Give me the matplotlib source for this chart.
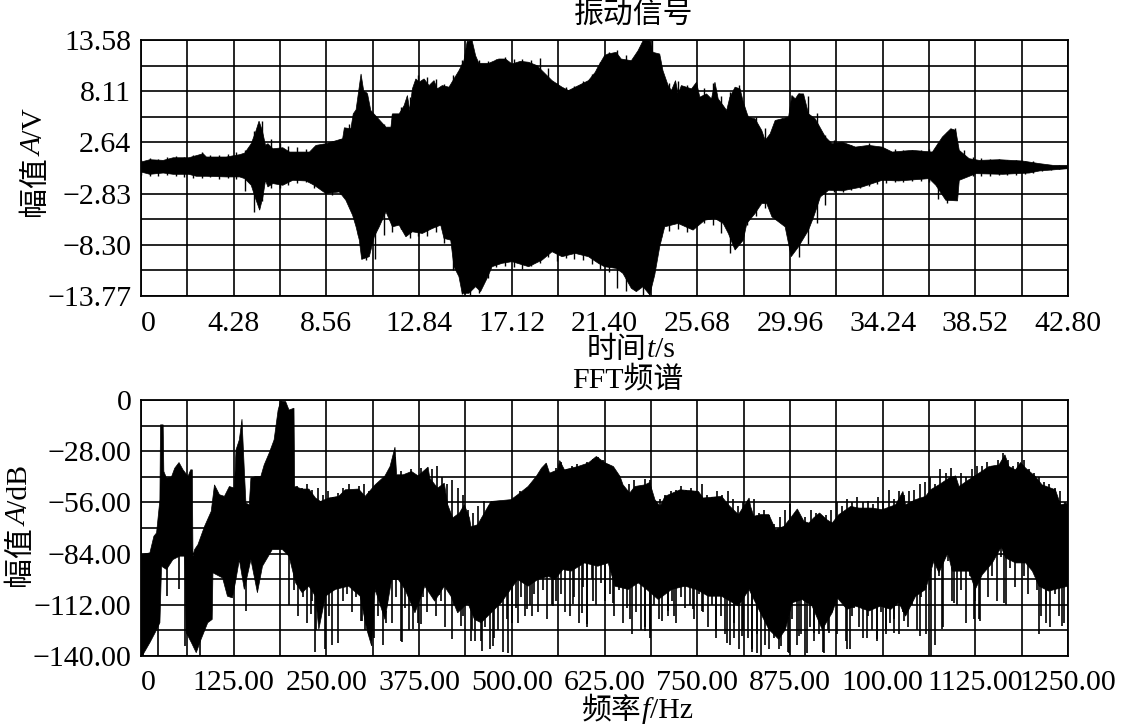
import numpy as np
import matplotlib
matplotlib.use('Agg')
import matplotlib.pyplot as plt

FONT = ['Liberation Serif', 'Noto Sans CJK SC']
plt.rcParams['font.family'] = FONT
plt.rcParams['font.size'] = 21.5

# -- vibration signal, envelope --
t_upper = [0, .41, 1.03, 1.49, 2.21, 2.87, 3.02, 3.94, 4.56, 4.79, 5.09, 5.29, 5.45, 5.6, 5.75, 5.86, 6.09, 6.55, 6.86,
           7.78, 8.08, 8.54, 9.31, 9.39, 9.69, 9.8, 9.93, 10.16, 10.28, 10.46, 10.61, 10.92, 11.31, 11.54, 11.61, 11.92,
           12.15, 12.3, 12.41, 12.53, 12.69, 12.84, 13.07, 13.3, 13.53, 13.68, 13.91, 14.22, 14.45, 14.68, 14.91, 15.06,
           15.29, 15.45, 15.6, 16.06, 16.52, 16.83, 17.13, 17.52, 17.9, 18.29, 18.52, 18.98, 19.44, 19.74, 20.2, 20.66,
           20.97, 21.09, 21.4, 21.55, 21.94, 22.17, 22.64, 22.95, 23.18, 23.49, 23.64, 23.95, 24.1, 24.34, 24.49, 24.68,
           24.8, 24.95, 25.42, 25.65, 25.8, 26.11, 26.34, 26.5, 26.65, 26.88, 27.04, 27.19, 27.43, 27.66, 27.81, 28.04,
           28.35, 28.66, 28.82, 29.05, 29.28, 29.9, 30.05, 30.21, 30.36, 30.59, 30.82, 31.13, 31.6, 31.91, 32.37, 32.99,
           33.6, 34.22, 34.69, 35.61, 36.54, 37.0, 37.39, 37.62, 37.78, 38.24, 38.7, 39.63, 40.71, 41.49, 42.1, 42.8]
v_upper = [.54, .79, .72, 1.0, 1.0, 1.43, 1.08, 1.08, 1.33, 1.5, 2.5, 3.74, 4.91, 3.92, 2.32, 2.5, 1.96, 2.07, 1.61,
           1.61, 2.32, 2.5, 3.03, 4.2, 4.1, 5.69, 6.12, 9.95, 8.18, 7.82, 6.05, 5.27, 4.27, 4.27, 5.69, 5.69,
           6.58, 7.65, 6.05, 8.36, 9.42, 9.07, 9.42, 8.71, 9.24, 8.36, 8.71, 8.54, 9.42, 10.3, 11.37, 13.43,
           13.5, 11.9, 11.09, 11.09, 11.55, 11.55, 11.02, 11.3, 11.2, 10.84, 10.3, 9.24, 8.54, 8.18, 8.71, 9.24,
           10.12, 10.66, 11.9, 12.08, 12.26, 11.55, 11.37, 12.44, 13.5, 13.5, 12.26, 12.08, 10.3, 8.71, 8.18, 9.24,
           7.82, 8.71, 8.36, 9.07, 7.47, 7.82, 7.29, 9.07, 7.29, 6.58, 6.05, 7.47, 8.54, 8.36, 6.94, 5.34,
           5.16, 3.92, 2.85, 3.56, 4.98, 5.34, 7.65, 7.29, 7.82, 7.82, 5.69, 5.16, 3.21, 2.5, 2.67, 2.14,
           2.32, 2.14, 1.61, 1.79, 1.61, 3.21, 4.1, 3.92, 1.79, .9, .72, .79, .65, .37, .19, .19]

t_lower = [0, .41, 1.03, 1.49, 2.21, 2.56, 3.02, 3.94, 4.56, 4.79, 5.09, 5.29, 5.48, 5.63, 5.75, 5.86, 6.09, 6.55, 7.01,
           7.62, 8.0, 8.54, 9.16, 9.46, 9.77, 9.93, 10.08, 10.19, 10.54, 10.77, 11.0, 11.31, 11.61, 11.92, 12.23, 12.53,
           12.99, 13.45, 13.84, 13.99, 14.3, 14.45, 14.68, 14.83, 15.14, 15.45, 15.68, 15.98, 16.21, 16.67, 17.13, 17.9,
           18.52, 18.98, 19.44, 20.05, 20.66, 21.12, 21.4, 21.94, 22.25, 22.64, 22.87, 23.18, 23.49, 23.72, 23.95, 24.18,
           24.8, 25.49, 26.03, 26.5, 26.88, 27.12, 27.43, 27.81, 27.97, 28.35, 28.66, 28.89, 29.13, 29.74, 30.02, 30.36,
           30.82, 31.06, 31.37, 31.75, 32.37, 33.3, 34.22, 34.99, 36.39, 36.7, 37.16, 37.7, 37.78, 38.55, 39.79, 41.02,
           41.49, 42.8]
v_lower = [-.52, -.77, -.63, -.77, -.77, -.98, -.98, -1.05, -1.05, -1.23, -1.94, -3.36, -4.6, -3.18, -1.41, -2.12, -1.76, -1.94, -1.41,
           -1.48, -1.94, -2.83, -2.65, -3.54, -5.14, -6.38, -7.8, -9.86, -9.57, -7.44, -6.38, -4.78, -6.38, -6.2, -7.44, -6.91,
           -7.09, -6.56, -6.2, -7.62, -7.8, -10.64, -11.7, -13.48, -13.48, -12.77, -13.3, -11.88, -10.64, -10.28, -10.1, -10.64,
           -9.93, -9.04, -9.57, -9.22, -9.57, -10.28, -10.64, -10.82, -11.35, -12.95, -13.3, -12.77, -13.65, -11.53, -8.51, -6.38,
           -6.02, -6.73, -5.67, -5.49, -6.02, -7.09, -8.86, -7.8, -6.02, -4.96, -3.89, -3.89, -5.31, -6.38, -9.57, -8.51,
           -6.73, -5.31, -3.18, -2.47, -2.54, -2.12, -1.41, -1.48, -1.23, -1.94, -3.54, -3.61, -1.41, -.7, -.77, -.63,
           -.41, -.17]

# one tip every 0.4 s, above and below the envelope
v_tips_up = [.8, 1.0, .9, 1.1, 1.2, 1.1, 1.3, 1.6, 1.3, 1.3,
             1.4, 1.6, 1.8, 3.9, 4.9, 3.0, 2.6, 2.3, 2.2, 1.9,
             2.2, 2.5, 2.6, 3.0, 4.6, 7.0, 8.0, 5.4, 4.6, 5.7,
             6.4, 7.5, 9.8, 9.6, 9.4, 8.9, 9.8, 11.4, 13.6, 11.4,
             11.3, 11.6, 11.8, 11.5, 11.6, 11.4, 11.7, 10.6, 9.0, 8.6,
             8.7, 9.2, 10.0, 11.2, 12.3, 12.5, 12.0, 11.7, 12.6, 13.6,
             10.5, 9.0, 9.2, 8.8, 8.6, 8.4, 9.0, 7.6, 8.0, 8.8,
             5.6, 5.4, 4.2, 3.2, 5.3, 5.6, 7.9, 7.6, 5.8, 3.4,
             2.9, 2.5, 2.4, 2.3, 2.6, 2.0, 1.9, 1.9, 1.8, 1.8,
             1.8, 1.9, 2.6, 3.8, 4.2, 1.8, 1.1, 1.0, .9, .9,
             .8, .8, .7, .6, .3, .25, .2]
v_tips_down = [-.8, -1.0, -.9, -.8, -1, -1.1, -1.2, -1.2, -1.1, -1.3,
               -1.2, -1.3, -2.5, -4.8, -3.6, -2.2, -2.2, -1.9, -1.7, -1.6,
               -2.2, -2.4, -3.0, -2.9, -3.9, -7.2, -9.9, -9.8, -7.2, -6.9,
               -6.6, -7.6, -7.4, -7.4, -6.9, -8.1, -11, -13.6, -13.7, -13.5,
               -11.8, -10.7, -10.6, -10.7, -10.9, -10.6, -10.2, -9.6, -10.0, -9.7,
               -9.8, -9.9, -10.4, -10.9, -11.2, -12.9, -13.2, -13.0, -13.7, -11,
               -7.5, -6.8, -6.6, -6.9, -6.2, -6, -6.2, -7.0, -9.2, -7.9,
               -6.2, -5.2, -4.4, -4, -5.4, -7, -9.6, -8.2, -6.0, -4,
               -2.7, -2.7, -2.4, -2.2, -2, -1.8, -1.7, -1.6, -1.6, -1.5,
               -1.5, -1.6, -3.4, -3.8, -1.2, -.9, -.9, -.9, -.9, -.8,
               -.8, -.8, -.7, -.6, -.4, -.3, -.2]

# -- FFT spectrum --
f_upper = [0, 12, 17.4, 21, 25.5, 26.3, 29.9, 30.8, 34.4, 41, 45.5, 51.3, 56.7, 63.4, 67, 69.2, 70.1, 72.3, 76.8, 85.7,
           94.7, 99.1, 105.8, 112.5, 119.2, 125.9, 128.1, 132.6, 136.2, 139.3, 141.5, 146, 148.2, 154.9, 161.6, 166.1,
           172.8, 179.5, 184.9, 188.4, 195.1, 199.6, 206.3, 207.2, 217.4, 226.4, 235.3, 242, 253.2, 266.6, 275.5, 293.4,
           302.3, 315.7, 329, 335.8, 342.5, 344.7, 353.6, 364.8, 373.7, 387.1, 389.4, 400, 409, 413.6, 420.4, 429.4, 436,
           442.9, 445, 454, 463, 472, 499, 508, 522, 533, 540, 546.5, 551, 562, 564.6, 571, 589, 603, 614, 625, 637, 646,
           650, 659, 666, 679.5, 686, 693, 700, 706.5, 727, 751.6, 758, 783, 792, 805.6, 820, 822, 826.4, 835.4, 846.7,
           855.7, 867, 876, 885, 894, 900.6, 907, 915, 925, 932, 941, 957, 968, 986, 999.5, 1017.5, 1027.4, 1031, 1044.5,
           1058, 1064.7, 1076, 1089.5, 1098.5, 1103, 1116.4, 1130, 1143.4, 1157, 1165, 1170.4, 1179.4, 1186, 1193, 1206,
           1215, 1233, 1240, 1250]
db_upper = [-84.5, -83.6, -74.5, -72.7, -54.5, -13.6, -13.6, -39.1, -42.7, -42.2, -37.3, -34.2, -38.2, -41.8, -38.2, -38.2,
            -85.4, -81.8, -79.1, -69.1, -60.9, -46.4, -51.8, -52.7, -47.3, -48.2, -27.3, -21.8, -10.5, -38.2, -56.4, -57.3,
            -42.7, -41.8, -41.8, -35.5, -29.1, -21.8, -5.5, -.5, -.9, -5.5, -4.5, -47.3, -48.7, -48.7, -53.6, -55.5, -53.6,
            -52.7, -49.1, -48.7, -52.7, -46.4, -41.5, -36.4, -25.8, -40.9, -40.9, -39.1, -41.5, -36.7, -42.7, -48.2, -45.5,
            -57.3, -64.5, -61.8, -57.3, -64.5, -69.4, -68.2, -61.8, -55.5, -54.5, -51.8, -47.3, -41.8, -37.3, -34.5, -40,
            -38.2, -33.1, -38.2, -36.4, -34.5, -30.9, -34.2, -36.4, -41.8, -46.4, -50.9, -47.3, -46.4, -45.1, -54.5, -58.2,
            -52.7, -49.1, -50, -53.6, -52.7, -57.3, -62.7, -53.6, -58.2, -63.6, -62.7, -62.7, -70.9, -69.1, -64.5, -59.6,
            -66.4, -67.3, -64.5, -61.8, -65.5, -67.3, -62.7, -58.2, -59.1, -59.1, -60, -57.3, -50, -57.3, -54.5, -52.7,
            -49.1, -46.4, -42.7, -41.5, -47.3, -43.6, -40, -36.4, -35.5, -30, -36.4, -38.2, -34.2, -37.3, -41.8, -46.4,
            -49.1, -57.3, -56.4]

f_lower = [0, 3, 12, 19, 25.5, 27.7, 34.4, 43, 52, 59, 61, 68, 74.5, 81, 90, 96, 97, 110, 116.6, 123.3, 128, 132.6, 139.3,
           148.2, 157, 163.8, 177, 190.7, 199.6, 208.5, 217.4, 226.4, 235.3, 239.8, 248.7, 262, 280, 295.6, 304.5, 311,
           315.7, 329, 338, 347, 356, 369.4, 382.7, 396, 409, 418, 427, 440.6, 449.7, 458.7, 472, 485.7, 501.5, 508, 522,
           535, 549, 558, 569, 580, 598, 616, 630, 639, 657, 670.5, 682, 697.5, 715.5, 733.5, 749, 765, 783, 805.6, 820,
           833, 846.7, 860, 869, 878, 891.6, 905, 918.6, 932, 939, 952, 963.6, 981.6, 997, 1011, 1022, 1031, 1044.5, 1058,
           1069, 1076, 1088, 1094, 1116.4, 1125, 1134.4, 1148, 1160, 1166, 1179.4, 1193, 1202, 1211, 1224, 1250]
db_lower = [-140, -139, -132.7, -127.3, -121.8, -90.9, -92.7, -87.3, -85.4, -85.4, -127.3, -132.7, -138.2, -130.9, -121.8, -120,
            -94.5, -97.3, -107.3, -108.2, -98.2, -87.3, -103.6, -87.3, -105.4, -90.9, -81.8, -81.8, -85.4, -100, -105.4, -101.8,
            -107.3, -125.5, -107.3, -103.6, -101.8, -107.3, -125.5, -134.5, -103.6, -120, -98.2, -98.2, -103.6, -116.4, -101.8,
            -110, -101.8, -107.3, -116.4, -110.9, -120, -121.8, -116.4, -110.9, -101.8, -98.2, -101.8, -98.2, -96.4, -98.2,
            -92.7, -93.6, -89.1, -90.9, -89.1, -101.8, -103.6, -100, -103.6, -109.1, -103.6, -101.8, -103.6, -107.3, -107.3,
            -112.7, -103.6, -114.5, -125.5, -130.9, -125.5, -110.9, -109.1, -112.7, -125.5, -116.4, -108.2, -114.5, -112.7,
            -115.4, -112.7, -114.5, -110.9, -118.2, -107.3, -103.6, -88.2, -94.5, -83.6, -93.6, -93.6, -103.6, -95.5, -89.1,
            -80.4, -86.4, -89.1, -89.1, -93.6, -101.8, -104.5, -101.8]

f_spikes = [3, 23, 34.4, 51.3, 59, 79, 141.5, 228.6, 235.3, 257.6, 297.8, 330, 351.4, 367, 378, 402, 420, 431.6, 445, 450.5,
            459.6, 474.4, 494.7, 508, 520.9, 527.6, 555.6, 582.6, 594.8, 602, 609.6, 636.7, 659, 679.5, 686.2, 702, 711,
            719, 744.8, 756, 776, 790, 799, 810, 824, 831, 846.7, 862.4, 873.7, 887, 898, 907, 921, 927.6, 952, 959, 979,
            993, 1004, 1015, 1029, 1051, 1064.7, 1080.5, 1096, 1123, 1132, 1163.6, 1211, 1220, 1242]
db_spikes = [-140, -140, -107.3, -103.6, -134.5, -140, -115.4, -116.8, -138, -133.8, -121, -121.8, -132.2, -125.5, -122.7,
             -106.4, -130.9, -123.6, -131.8, -131.8, -137.3, -134.5, -138.2, -121.8, -114.5, -118.2, -112.7, -111.8, -116.4,
             -122.7, -110, -110.9, -120, -126.4, -126.4, -120.9, -115.4, -118.2, -114.5, -115.4, -126.4, -132.7, -130, -129.1,
             -136.4, -138.2, -136.4, -134.5, -138.2, -129.1, -138.2, -127.3, -138.2, -127.3, -136.4, -118.2, -130, -130.9,
             -125.5, -127.3, -120.9, -129.1, -140, -125.5, -110.9, -120, -120.9, -110.9, -128.2, -121.8, -123.6]

# teeth of the lower edge, one every 6 Hz from 200 Hz
db_teeth = [-112, -104, -118, -108, -122, -110, -126, -114, -136, -118,
            -104, -133, -110, -106, -116, -108, -121, -126, -112, -130,
            -118, -134, -112, -122, -108, -132, -114, -126, -110, -122,
            -108, -116, -106, -118, -110, -124, -104, -112, -108, -118,
            -112, -126, -118, -132, -124, -136, -130, -126, -138, -120,
            -122, -114, -108, -118, -112, -106, -116, -104, -120, -112,
            -110, -106, -116, -118, -108, -122, -102, -124, -98, -112,
            -100, -110, -106, -118, -104, -122, -114, -128, -116, -126,
            -124, -130, -112, -120, -106, -118, -110, -122, -108, -114,
            -112, -120, -106, -116, -124, -112, -130, -118, -128, -134,
            -122, -136, -126, -130, -138, -128, -140, -134, -124, -130,
            -136, -126, -138, -120, -134, -128, -140, -124, -132, -128,
            -138, -126, -116, -128, -108, -132, -136, -114, -124, -130,
            -118, -126, -132, -116, -128, -122, -120, -128, -116, -124,
            -112, -126, -108, -128, -104, -134, -96, -124, -88, -110,
            -112, -104, -122, -96, -110, -120, -92, -108, -96, -110,
            -86, -112, -92, -102, -88, -96, -106, -90, -104, -118,
            -112, -124, -106, -118, -122]

# tips of the upper edge, one every 7 Hz from 210 Hz
db_tips = [-47, -48, -46, -49, -48, -52, -50, -53, -51, -48,
           -46, -49, -47, -46, -50, -47, -48, -53, -44, -40,
           -39, -41, -38, -42, -37, -40, -38, -36, -42, -46,
           -44, -48, -52, -60, -62, -58, -55, -58, -66, -68,
           -62, -58, -54, -50, -52, -49, -46, -40, -35, -40,
           -37, -34, -38, -36, -35, -37, -34, -32, -31, -33,
           -35, -38, -42, -48, -46, -44, -47, -43, -44, -56,
           -54, -52, -50, -49, -47, -49, -48, -50, -46, -52,
           -53, -50, -52, -50, -54, -58, -56, -60, -54, -62,
           -60, -63, -68, -64, -60, -57, -62, -66, -64, -60,
           -62, -65, -63, -60, -56, -58, -54, -56, -53, -56,
           -55, -57, -53, -55, -49, -54, -50, -52, -50, -49,
           -46, -45, -42, -46, -38, -40, -37, -44, -40, -42,
           -38, -36, -36, -34, -36, -33, -29, -33, -36, -34,
           -33, -38, -40, -42, -45, -46, -48, -50, -56, -54]

# -- ejes --
t_ticks = [0, 4.28, 8.56, 12.84, 17.12, 21.40, 25.68, 29.96, 34.24, 38.52, 42.80]
t_labels = ['0', '4.28', '8.56', '12.84', '17.12', '21.40', '25.68', '29.96', '34.24', '38.52', '42.80']
v_ticks = [13.58, 8.11, 2.64, -2.83, -8.30, -13.77]
v_labels = ['13.58', '8.11', '2.64', '−2.83', '−8.30', '−13.77']
f_ticks = [0, 125, 250, 375, 500, 625, 750, 875, 1000, 1125, 1250]
f_labels = ['0', '125.00', '250.00', '375.00', '500.00', '625.00', '750.00', '875.00', '100.00', '1125.00', '1250.00']
db_ticks = [0, -28, -56, -84, -112, -140]
db_labels = ['0', '−28.00', '−56.00', '−84.00', '−112.00', '−140.00']

W, H = 1122, 726


def make_axes(fig, top, bottom):
    return fig.add_axes([141 / W, 1 - bottom / H, 927 / W, (bottom - top) / H])


def style_axes(ax, xt, xl, yt, yl, xpad):
    ax.set_xlim(xt[0], xt[-1])
    ax.set_ylim(yt[-1], yt[0])
    ax.set_xticks(xt)
    ax.set_xticklabels(xl)
    ax.set_yticks(yt)
    ax.set_yticklabels(yl)
    ax.set_xticks((np.array(xt[:-1]) + np.array(xt[1:])) / 2, minor=True)
    ax.set_yticks((np.array(yt[:-1]) + np.array(yt[1:])) / 2, minor=True)
    ax.grid(True, which='both', color='black', lw=1.2)
    ax.set_axisbelow(True)
    ax.tick_params(which='both', length=0)
    ax.tick_params(axis='x', pad=xpad)
    ax.tick_params(axis='y', pad=7)
    ax.get_xticklabels()[0].set_ha('left')
    for s in ax.spines.values():
        s.set_linewidth(1.3)
        s.set_zorder(5)


def mixed_label(fig, cx, cy, parts, vertical=False):
    # trozos con cursiva, colocados uno tras otro desde el centro (en px)
    rend = fig.canvas.get_renderer()
    widths = []
    for txt, st in parts:
        tmp = fig.text(0, 0, txt, style=st)
        widths.append(tmp.get_window_extent(rend).width)
        tmp.remove()
    pos = -sum(widths) / 2
    for (txt, st), w in zip(parts, widths):
        mid = pos + w / 2
        if vertical:
            fig.text(cx / W, 1 - (cy - mid) / H, txt, style=st, rotation=90, ha='center', va='center')
        else:
            fig.text((cx + mid) / W, 1 - cy / H, txt, style=st, ha='center', va='center')
        pos += w


fig = plt.figure(figsize=(W / 100, H / 100), dpi=100, facecolor='white')

ax1 = make_axes(fig, 40, 296)
ax1.fill(np.concatenate([t_upper, t_lower[::-1]]), np.concatenate([v_upper, v_lower[::-1]]),
         color='black', lw=0.5, zorder=3)
t_tips_up = np.arange(len(v_tips_up)) * 0.4
t_tips_down = np.arange(len(v_tips_down)) * 0.4
ax1.vlines(t_tips_up, 0, v_tips_up, color='black', lw=1.0, zorder=3)
ax1.vlines(t_tips_down, v_tips_down, 0, color='black', lw=1.0, zorder=3)
style_axes(ax1, t_ticks, t_labels, v_ticks, v_labels, 11)

ax2 = make_axes(fig, 400, 656)
ax2.fill(np.concatenate([f_upper, f_lower[::-1]]), np.concatenate([db_upper, db_lower[::-1]]),
         color='black', lw=0.5, zorder=3)
ax2.vlines(f_spikes, db_spikes, np.interp(f_spikes, f_lower, db_lower) + 2, color='black', lw=1.2, zorder=3)
f_teeth = 200 + np.arange(len(db_teeth)) * 6
ax2.vlines(f_teeth, db_teeth, np.interp(f_teeth, f_lower, db_lower) + 2, color='black', lw=1.2, zorder=3)
f_tips = 210 + np.arange(len(db_tips)) * 7
ax2.vlines(f_tips, np.interp(f_tips, f_upper, db_upper) - 2, db_tips, color='black', lw=1.2, zorder=3)
style_axes(ax2, f_ticks, f_labels, db_ticks, db_labels, 10)

fig.canvas.draw()
mixed_label(fig, 634, 15, [('振动信号', 'normal')])
mixed_label(fig, 631, 350, [('时间', 'normal'), ('t', 'italic'), ('/s', 'normal')])
mixed_label(fig, 628, 380, [('FFT频谱', 'normal')])
mixed_label(fig, 637, 711, [('频率', 'normal'), ('f', 'italic'), ('/Hz', 'normal')])
mixed_label(fig, 35, 162, [('幅值', 'normal'), ('A', 'italic'), ('/V', 'normal')], vertical=True)
mixed_label(fig, 20, 525, [('幅值', 'normal'), ('A', 'italic'), ('/dB', 'normal')], vertical=True)

fig.savefig('out.png', dpi=100, facecolor='white')
